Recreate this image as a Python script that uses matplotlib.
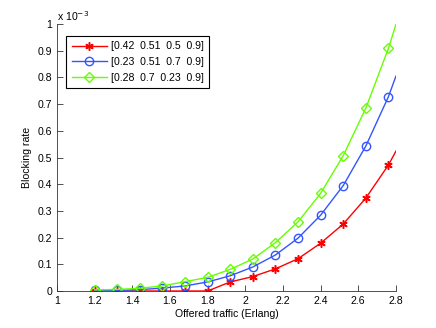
import matplotlib
matplotlib.use("Agg")
import matplotlib.pyplot as plt

plt.rcParams["font.family"] = ["Liberation Sans", "DejaVu Sans"]
plt.rcParams["font.size"] = 7.6

# offered traffic (Erlang); last point only closes the curve at the axis edge
traffic = [1.2, 1.32, 1.44, 1.56, 1.68, 1.8, 1.92, 2.04, 2.16, 2.28, 2.4, 2.52, 2.64, 2.76, 2.8]

# blocking rate in units of 1e-3
red_vals = [0.0, 0.0, 0.0, 0.0, 0.0, 0.0, 0.034, 0.054, 0.083, 0.121, 0.179, 0.251, 0.348, 0.472, 0.524]
blue_vals = [0.002, 0.002, 0.005, 0.011, 0.019, 0.034, 0.057, 0.09, 0.135, 0.198, 0.284, 0.395, 0.543, 0.728, 0.805]
green_vals = [0.004, 0.006, 0.01, 0.019, 0.035, 0.051, 0.081, 0.12, 0.181, 0.259, 0.366, 0.507, 0.685, 0.909, 0.999]

labels = ["[0.42  0.51  0.5  0.9]", "[0.23  0.51  0.7  0.9]", "[0.28  0.7  0.23  0.9]"]

fig = plt.figure(figsize=(4.36, 3.28), dpi=100)
ax = fig.add_axes([0.1307, 0.1128, 0.7775, 0.814])

marks = list(range(len(traffic) - 1))
ax.plot(traffic, [v * 1e-3 for v in red_vals], color="#ff0000", marker=(6, 2, 0), markersize=6,
        markeredgewidth=1.1, markevery=marks, lw=1, label=labels[0])
ax.plot(traffic, [v * 1e-3 for v in blue_vals], color="#3355ff", marker="o", markersize=6,
        markerfacecolor="none", markevery=marks, lw=1, label=labels[1])
ax.plot(traffic, [v * 1e-3 for v in green_vals], color="#66ff00", marker="D", markersize=5,
        markerfacecolor="none", markevery=marks, lw=1, label=labels[2])

ax.set_xlim(1, 2.8)
ax.set_ylim(0, 1e-3)
ax.set_xticks([1, 1.2, 1.4, 1.6, 1.8, 2, 2.2, 2.4, 2.6, 2.8])
ax.set_xticklabels(["1", "1.2", "1.4", "1.6", "1.8", "2", "2.2", "2.4", "2.6", "2.8"])
yt = [i / 10 for i in range(11)]
ax.set_yticks([v * 1e-3 for v in yt])
ax.set_yticklabels(["0"] + [f"{v:.1f}" for v in yt[1:-1]] + ["1"])
ax.text(0, 1.005, r"x 10$^{-3}$", transform=ax.transAxes, ha="left", va="bottom", fontsize=7.6)

ax.spines["top"].set_visible(False)
ax.spines["right"].set_visible(False)
for s in ["left", "bottom"]:
    ax.spines[s].set_color("#333333")
    ax.spines[s].set_linewidth(0.6)
ax.tick_params(direction="in", length=4, width=0.6, colors="#333333", labelcolor="black")

ax.set_xlabel("Offered traffic (Erlang)", labelpad=2)
ax.set_ylabel("Blocking rate", labelpad=4)

leg = ax.legend(loc="upper left", bbox_to_anchor=(0.028, 0.955), borderaxespad=0,
                fancybox=False, edgecolor="black", framealpha=1, handlelength=3.3,
                borderpad=0.5, labelspacing=0.55, handletextpad=0.4, fontsize=7.6)
leg.get_frame().set_linewidth(0.8)

fig.savefig("out.png", dpi=100)
